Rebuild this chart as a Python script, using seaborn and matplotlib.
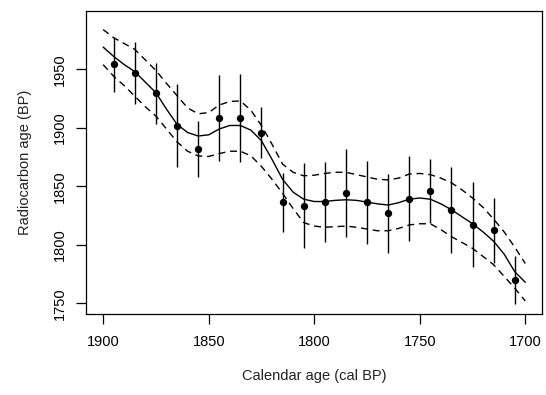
import matplotlib
matplotlib.use("Agg")
import matplotlib.pyplot as plt
import numpy as np
import pandas as pd
import seaborn as sns

# dated samples: calendar age, radiocarbon age and 1-sigma error
cal_age = [1895, 1885, 1875, 1865, 1855, 1845, 1835, 1825, 1815, 1805,
           1795, 1785, 1775, 1765, 1755, 1745, 1735, 1725, 1715, 1705]
c14_age = [1954.3, 1947.1, 1929.5, 1901.8, 1882.1, 1908.4, 1908.6, 1895.8, 1836.3, 1833.4,
           1836.6, 1844.3, 1836.3, 1826.9, 1839.4, 1845.7, 1830.0, 1817.2, 1812.4, 1769.9]
c14_err = [23.5, 26.4, 26.1, 35.6, 23.9, 36.5, 37.8, 21.8, 25.5, 36.4,
           34.2, 38.0, 35.3, 33.5, 36.4, 27.4, 36.6, 36.2, 27.8, 20.7]

# fitted curve with its interval, read every 5 years
grid = [1900, 1895, 1890, 1885, 1880, 1875, 1870, 1865, 1860, 1855, 1850,
        1845, 1840, 1835, 1830, 1825, 1820, 1815, 1810, 1805, 1800,
        1795, 1790, 1785, 1780, 1775, 1770, 1765, 1760, 1755, 1750,
        1745, 1740, 1735, 1730, 1725, 1720, 1715, 1710, 1705, 1700]
fit_mean = [1969, 1961, 1954, 1948, 1939, 1930, 1916, 1903, 1896, 1893, 1894,
            1899, 1902, 1902, 1898, 1889, 1873, 1856, 1845, 1839, 1837,
            1837, 1838, 1838.5, 1838, 1836.5, 1835, 1834, 1836, 1839, 1840,
            1839, 1835, 1830, 1824, 1818, 1811, 1803, 1792, 1777, 1768]
fit_upper = [1984, 1977, 1972, 1967, 1958, 1949, 1938, 1927.5, 1917, 1912, 1913,
             1919.5, 1922.5, 1923, 1915, 1902, 1886, 1869, 1862, 1859, 1859.5,
             1861, 1862, 1862, 1860, 1858, 1856, 1855.5, 1857, 1860.5, 1861,
             1860, 1857, 1853, 1847, 1840, 1832, 1822, 1811, 1798, 1784]
fit_lower = [1954, 1944, 1936, 1927, 1918, 1910, 1899, 1888, 1880, 1876, 1875.5,
             1878, 1880, 1880, 1876, 1867, 1856, 1844, 1831, 1819, 1816,
             1815, 1815.5, 1816, 1815, 1813.5, 1812, 1812, 1814, 1817, 1818,
             1818, 1813, 1807, 1802, 1797, 1790, 1783, 1773, 1763, 1752]


def main():
    sns.set_style("ticks")
    plt.rcParams["font.family"] = ["Liberation Sans", "DejaVu Sans"]

    pts = pd.DataFrame({"cal": cal_age, "c14": c14_age, "err": c14_err})
    fit = pd.DataFrame({"cal": grid, "mean": fit_mean, "upper": fit_upper, "lower": fit_lower})

    fig = plt.figure(figsize=(5.46, 3.95), dpi=100)
    ax = fig.add_axes([0.158, 0.204, 0.835, 0.768])

    ax.vlines(pts.cal, pts.c14 - pts.err, pts.c14 + pts.err, color="black", lw=1.0)
    sns.lineplot(data=fit, x="cal", y="mean", color="black", lw=1.0, ax=ax, sort=False)
    for col in ["upper", "lower"]:
        sns.lineplot(data=fit, x="cal", y=col, color="black", lw=1.0, ax=ax,
                     sort=False, dashes=False, linestyle=(0, (5, 3.5)))
    sns.scatterplot(data=pts, x="cal", y="c14", color="black", s=28,
                    edgecolor="black", linewidth=0, ax=ax, zorder=5)

    ax.set_xlim(1908, 1692)
    ax.set_ylim(1740.5, 1999.8)
    ax.set_xticks([1900, 1850, 1800, 1750, 1700])
    ax.set_yticks([1750, 1800, 1850, 1900, 1950])
    for lab in ax.get_yticklabels():
        lab.set_rotation(90)
        lab.set_va("center")
    ax.tick_params(axis="both", length=7, width=0.9, color="black",
                   labelsize=10.5, labelcolor="black")
    ax.tick_params(axis="x", pad=8)
    ax.tick_params(axis="y", pad=7)
    for s in ax.spines.values():
        s.set_visible(True)
        s.set_linewidth(0.9)
        s.set_color("black")

    ax.set_xlabel("Calendar age (cal BP)", fontsize=10.5, labelpad=14, color="#222222")
    ax.set_ylabel("Radiocarbon age (BP)", fontsize=10.5, labelpad=15, color="#222222")

    fig.savefig("out.png", dpi=100)


if __name__ == "__main__":
    main()
